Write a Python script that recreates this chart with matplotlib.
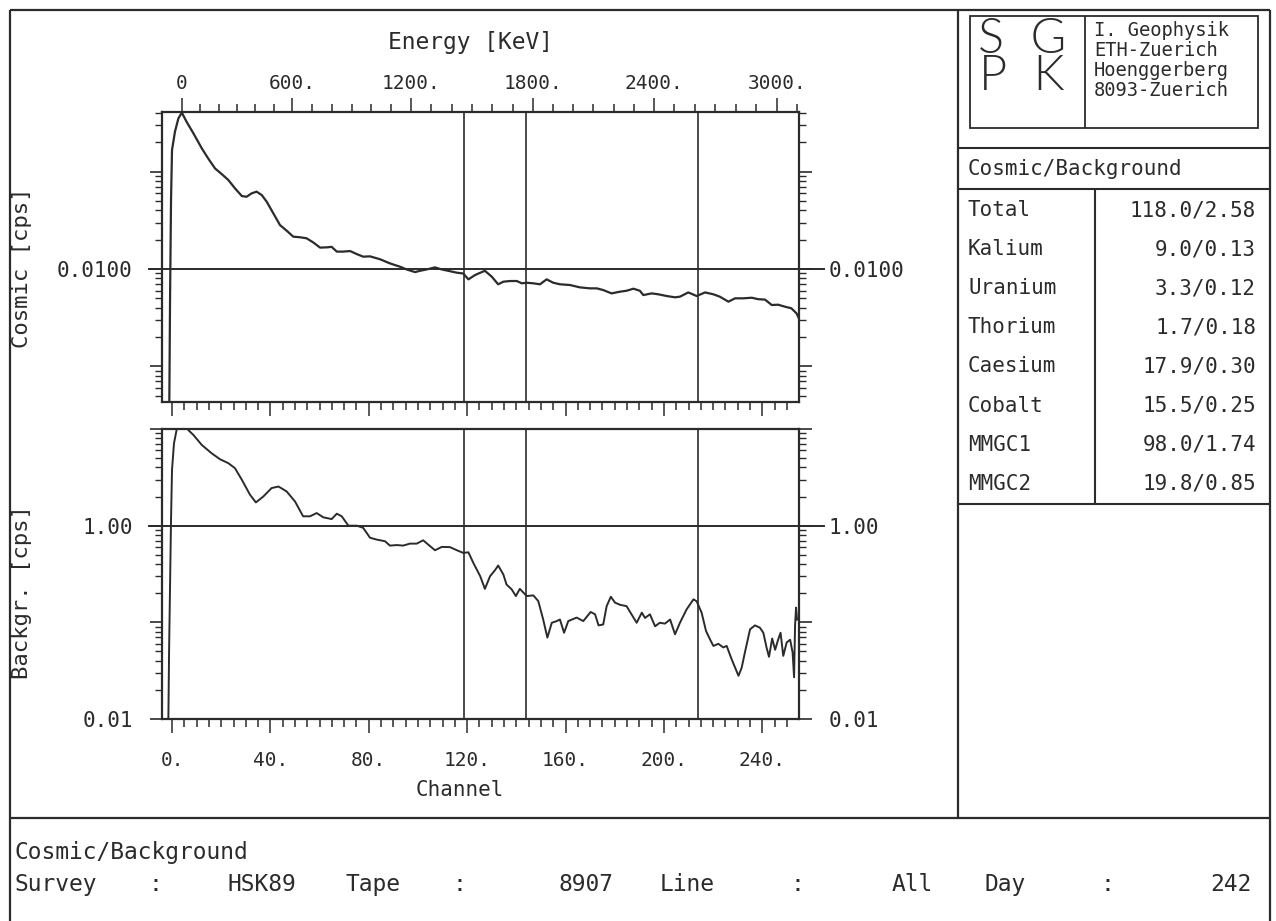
import numpy as np
import matplotlib.pyplot as plt
from matplotlib.lines import Line2D
from matplotlib.patches import Rectangle
from matplotlib.ticker import FixedLocator, NullFormatter

W, H = 1276, 921
INK = '#2b2b2b'
MONO = 'DejaVu Sans Mono'

cosmic_pts = [
    (-1.1, 0.0004), (-0.8, 0.0048), (-0.4, 0.051), (0.0, 0.167), (1.2, 0.258),
    (2.6, 0.354), (4.0, 0.405), (5.9, 0.327), (8.7, 0.248), (12.1, 0.174),
    (14.7, 0.137), (17.5, 0.108), (20.2, 0.0946), (22.9, 0.0822), (25.6, 0.0675),
    (28.4, 0.0562), (30.3, 0.0553), (32.4, 0.060), (34.4, 0.0624), (36.5, 0.0575),
    (38.5, 0.0492), (41.2, 0.0373), (43.9, 0.0283), (46.6, 0.0248), (49.3, 0.0215),
    (52.1, 0.0212), (54.7, 0.0207), (57.5, 0.0187), (60.2, 0.0166), (62.9, 0.0167),
    (64.9, 0.0169), (67.0, 0.0151), (69.6, 0.0151), (72.4, 0.0153), (75.1, 0.01425),
    (77.7, 0.0134), (80.5, 0.0135), (84.6, 0.0126), (88.6, 0.01143), (92.7, 0.01056),
    (95.4, 0.0099), (98.8, 0.0093), (100.9, 0.0096), (103.5, 0.0099), (106.9, 0.0104),
    (109.7, 0.0099), (113.0, 0.0095), (115.8, 0.00917), (118.4, 0.0090), (120.5, 0.00783),
    (123.2, 0.00868), (127.2, 0.0096), (130.0, 0.00834), (132.6, 0.00697), (134.7, 0.00741),
    (137.4, 0.00753), (140.2, 0.00753), (142.2, 0.00713), (144.2, 0.00723), (146.9, 0.00713),
    (149.6, 0.00697), (152.3, 0.00783), (155.0, 0.00723), (157.7, 0.00697), (161.8, 0.00685),
    (165.8, 0.00648), (169.9, 0.00633), (172.7, 0.00633), (175.3, 0.00608), (178.7, 0.00562),
    (182.1, 0.00585), (184.8, 0.00598), (187.6, 0.00628), (190.2, 0.00598), (191.6, 0.0054),
    (195.0, 0.00562), (197.7, 0.0055), (201.1, 0.00528), (204.5, 0.00512), (206.5, 0.0052),
    (209.9, 0.00575), (213.3, 0.00528), (216.7, 0.00575), (220.1, 0.0055), (222.7, 0.0052),
    (226.2, 0.00462), (228.9, 0.005), (232.2, 0.005), (235.7, 0.00507), (238.3, 0.0049),
    (241.1, 0.00485), (243.8, 0.00427), (246.4, 0.0043), (249.2, 0.0041), (251.8, 0.00395),
    (253.9, 0.0035), (254.9, 0.0031),
]

backgr_pts = [
    (-1.5, 0.009), (-1.2, 0.0487), (-0.8, 0.237), (-0.4, 1.15), (0.0, 3.78),
    (0.8, 7.1), (1.9, 9.9), (4.1, 14.0), (6.6, 9.77), (8.7, 8.67),
    (12.1, 6.84), (16.1, 5.61), (19.5, 4.87), (22.9, 4.43), (25.6, 3.93),
    (28.4, 2.98), (31.7, 2.09), (34.1, 1.74), (37.1, 2.0), (40.5, 2.45),
    (43.3, 2.54), (46.6, 2.26), (50.0, 1.78), (53.3, 1.25), (56.1, 1.25),
    (58.8, 1.35), (61.5, 1.22), (64.9, 1.17), (67.0, 1.33), (69.0, 1.25),
    (71.7, 1.0), (75.1, 1.0), (77.7, 0.95), (80.5, 0.75), (83.2, 0.718),
    (86.6, 0.69), (88.6, 0.622), (91.4, 0.63), (94.0, 0.622), (96.7, 0.652),
    (99.5, 0.652), (102.1, 0.706), (104.2, 0.636), (106.9, 0.557), (109.7, 0.603),
    (113.0, 0.6), (115.8, 0.557), (118.4, 0.523), (120.5, 0.53), (122.5, 0.412),
    (125.3, 0.30), (127.2, 0.222), (129.3, 0.30), (131.3, 0.346), (132.6, 0.387),
    (134.7, 0.313), (136.0, 0.246), (138.1, 0.219), (139.8, 0.187), (141.4, 0.222),
    (144.2, 0.187), (146.9, 0.19), (148.9, 0.166), (150.9, 0.107), (152.6, 0.0695),
    (154.4, 0.099), (156.4, 0.103), (157.7, 0.107), (159.4, 0.078), (161.1, 0.103),
    (164.5, 0.112), (167.2, 0.103), (170.2, 0.128), (172.0, 0.121), (173.4, 0.093),
    (175.3, 0.095), (176.7, 0.147), (178.4, 0.184), (180.1, 0.16), (182.1, 0.152),
    (184.8, 0.147), (186.9, 0.12), (188.9, 0.099), (191.0, 0.126), (192.3, 0.111),
    (194.3, 0.121), (196.4, 0.091), (198.3, 0.099), (200.4, 0.097), (202.5, 0.107),
    (204.5, 0.0752), (206.5, 0.099), (209.2, 0.136), (212.0, 0.173), (213.3, 0.165),
    (215.3, 0.126), (217.1, 0.0813), (218.7, 0.0668), (220.1, 0.057), (222.1, 0.06),
    (224.1, 0.055), (225.5, 0.057), (227.5, 0.0416), (230.3, 0.028), (231.6, 0.034),
    (232.9, 0.0487), (235.0, 0.0847), (237.0, 0.093), (239.0, 0.088), (240.4, 0.078),
    (241.7, 0.055), (242.7, 0.044), (244.0, 0.068), (245.2, 0.052), (246.4, 0.066),
    (247.4, 0.078), (248.5, 0.045), (249.9, 0.062), (251.3, 0.066), (252.3, 0.0487),
    (252.9, 0.027), (253.3, 0.093), (253.7, 0.142), (254.1, 0.107),
]

# K, U, Th photopeak windows (channel)
window_ch = [118.7, 143.9, 213.8]
channel_ticks = [0, 40, 80, 120, 160, 200, 240]
channel_labels = ['0.', '40.', '80.', '120.', '160.', '200.', '240.']

# energy calibration
energy_cal_kev = [0, 600, 1200, 1800, 2400, 3000]
energy_cal_ch = [4.1, 48.8, 97.2, 146.7, 195.9, 245.9]
energy_labels = ['0', '600.', '1200.', '1800.', '2400.', '3000.']

table_names = ['Total', 'Kalium', 'Uranium', 'Thorium', 'Caesium', 'Cobalt', 'MMGC1', 'MMGC2']
table_values = ['118.0/2.58', '9.0/0.13', '3.3/0.12', '1.7/0.18', '17.9/0.30',
                '15.5/0.25', '98.0/1.74', '19.8/0.85']
address = ['I. Geophysik', 'ETH-Zuerich', 'Hoenggerberg', '8093-Zuerich']

XLIM = (-4.07, 254.9)


def e2ch(e):
    e = np.asarray(e, dtype=float)
    k = (energy_cal_ch[-1] - energy_cal_ch[-2]) / (energy_cal_kev[-1] - energy_cal_kev[-2])
    return np.where(e > energy_cal_kev[-1],
                    energy_cal_ch[-1] + (e - energy_cal_kev[-1]) * k,
                    np.interp(e, energy_cal_kev, energy_cal_ch))


def fx(px):
    return px / W


def fy(py):
    return 1 - py / H


def fline(x0, y0, x1, y1, lw=1.5):
    fig.add_artist(Line2D([fx(x0), fx(x1)], [fy(y0), fy(y1)], lw=lw, color=INK,
                          solid_capstyle='butt'))


def ftext(x, y, s, **kw):
    kw.setdefault('family', MONO)
    kw.setdefault('color', INK)
    kw.setdefault('va', 'center')
    fig.text(fx(x), fy(y), s, **kw)


plt.rcParams['font.family'] = MONO
fig = plt.figure(figsize=(W / 100, H / 100), dpi=100)

L, R = 162, 799
ax1 = fig.add_axes([fx(L), fy(402), fx(R) - fx(L), fy(112) - fy(402)])
ax2 = fig.add_axes([fx(L), fy(719), fx(R) - fx(L), fy(429) - fy(719)])

cx, cy = zip(*cosmic_pts)
bx, by = zip(*backgr_pts)
ax1.plot(cx, cy, color=INK, lw=1.6)
ax2.plot(bx, by, color=INK, lw=1.4)

for ax, lims, lab_val in [(ax1, (4.3e-4, 0.411), 0.01), (ax2, (0.01, 10.0), 1.0)]:
    ax.set_yscale('log')
    ax.set_ylim(*lims)
    ax.set_xlim(*XLIM)
    for s in ax.spines.values():
        s.set_linewidth(1.6)
        s.set_color(INK)
    for c in window_ch:
        ax.axvline(c, color=INK, lw=1.2)
    ax.plot([-0.02, 1.04], [lab_val, lab_val], transform=ax.get_yaxis_transform(),
            color=INK, lw=1.4, clip_on=False)
    ax.tick_params(axis='y', which='both', direction='out', left=True, right=True,
                   labelleft=True, labelright=True, colors=INK, labelsize=15, pad=12)
    ax.tick_params(axis='y', which='major', length=9, width=1.2)
    ax.tick_params(axis='y', which='minor', length=5, width=1.0)
    ax.tick_params(axis='x', which='both', direction='out', colors=INK, labelsize=14, width=1.1)
    ax.xaxis.set_major_locator(FixedLocator(channel_ticks))
    ax.xaxis.set_minor_locator(FixedLocator(np.arange(0, 256, 5)))
    ax.tick_params(axis='x', which='major', length=10)
    ax.tick_params(axis='x', which='minor', length=6)

ax1.yaxis.set_major_locator(FixedLocator([0.001, 0.01, 0.1]))
ax1.set_yticklabels(['', '0.0100', ''])
ax2.yaxis.set_major_locator(FixedLocator([0.01, 0.1, 1.0, 10.0]))
ax2.set_yticklabels(['0.01', '', '1.00', ''])
for ax in (ax1, ax2):
    ax.yaxis.set_minor_formatter(NullFormatter())

ax1.xaxis.set_major_formatter(NullFormatter())
ax2.set_xticklabels(channel_labels)
ax2.tick_params(axis='x', pad=13)

# energy scale along the top of the cosmic panel
top = ax1.twiny()
top.set_xlim(*XLIM)
top.xaxis.set_major_locator(FixedLocator(e2ch(energy_cal_kev)))
top.xaxis.set_minor_locator(FixedLocator(e2ch(np.arange(0, 3101, 100))))
top.set_xticklabels(energy_labels)
top.tick_params(which='both', direction='out', colors=INK, labelsize=14, width=1.1, pad=4)
top.tick_params(which='major', length=10)
top.tick_params(which='minor', length=6)
for s in top.spines.values():
    s.set_visible(False)

ftext(470, 42, 'Energy [KeV]', ha='center', fontsize=16.5)
ftext(460, 790, 'Channel', ha='center', fontsize=15)
ftext(22, 268, 'Cosmic [cps]', ha='center', rotation=90, fontsize=16)
ftext(22, 592, 'Backgr. [cps]', ha='center', rotation=90, fontsize=16)

# frame of the sheet
fline(10, 10, 1270, 10, lw=1.6)
fline(10, 10, 10, 921, lw=1.6)
fline(1270, 10, 1270, 921, lw=1.6)
fline(10, 818, 1270, 818, lw=1.6)
fline(958, 10, 958, 818, lw=1.6)

# logo box
fig.add_artist(Rectangle((fx(970), fy(128)), fx(1258) - fx(970), fy(16) - fy(128),
                         fill=False, lw=1.3, ec=INK))
fline(1085, 16, 1085, 128, lw=1.3)
ftext(1022, 58, 'S  G\nP  K', ha='center', fontsize=35, family='Lato',
      fontweight=300, linespacing=0.76)
for i, line in enumerate(address):
    ftext(1094, 31 + i * 20, line, ha='left', fontsize=13.5)

fline(958, 148, 1270, 148)
ftext(968, 169, 'Cosmic/Background', ha='left', fontsize=15)
fline(958, 189, 1270, 189)
fline(1095, 189, 1095, 504)
for i, (n, v) in enumerate(zip(table_names, table_values)):
    y = 210 + i * 39.1
    ftext(968, y, n, ha='left', fontsize=15)
    ftext(1256, y, v, ha='right', fontsize=15)
fline(958, 504, 1270, 504)

# footer
ftext(15, 852, 'Cosmic/Background', ha='left', fontsize=16.5)
footer = [(15, 'Survey', 'left'), (148, ':', 'left'), (228, 'HSK89', 'left'),
          (345, 'Tape', 'left'), (453, ':', 'left'), (613, '8907', 'right'),
          (660, 'Line', 'left'), (790, ':', 'left'), (933, 'All', 'right'),
          (985, 'Day', 'left'), (1100, ':', 'left'), (1252, '242', 'right')]
for x, s, ha in footer:
    ftext(x, 884, s, ha=ha, fontsize=16.5)

fig.savefig('out.png', dpi=100, facecolor='white')
